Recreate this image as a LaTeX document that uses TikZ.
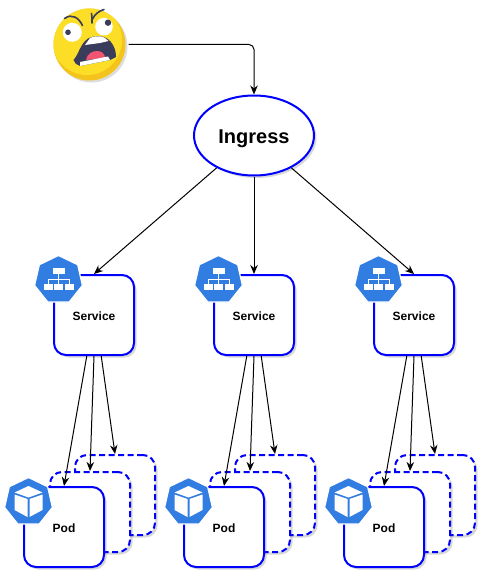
\documentclass[tikz,border=0pt]{standalone}
\usepackage{fontspec}
\setmainfont{Liberation Sans}
\usetikzlibrary{arrows.meta,calc,shapes.geometric,shadows}
\definecolor{edge}{RGB}{0, 0, 255}
\definecolor{kube}{RGB}{50, 125, 225}
\definecolor{faceyellow}{RGB}{252, 222, 38}
\definecolor{facedark}{RGB}{244, 196, 28}
\definecolor{faceink}{RGB}{58, 60, 92}
\definecolor{facepink}{RGB}{240, 84, 112}
\tikzset{
    softshadow/.style={drop shadow={opacity=0.22, shadow xshift=2.5pt, shadow yshift=-2.5pt, fill=black!70}},
    box/.style={draw=edge, fill=white, line width=2pt, rounded corners=12pt, minimum width=80pt, minimum height=80pt, inner sep=0pt, softshadow, text height=10.5pt, text depth=0pt, font=\fontsize{12}{14}\selectfont\bfseries},
    ghostbox/.style={box, dash pattern=on 6pt off 3.5pt},
    bubble/.style={draw=edge, fill=white, ellipse, line width=2pt, minimum width=120pt, minimum height=80pt, inner sep=0pt, softshadow, text height=16pt, text depth=0pt, font=\fontsize{20}{24}\selectfont\bfseries},
    badge/.style={regular polygon, regular polygon sides=7, fill=kube, draw=white, line width=1.2pt, minimum size=49pt, inner sep=0pt},
    link/.style={draw=black, line width=1pt, -{Stealth[length=9pt,width=7.5pt]}},
    svcicon/.pic={
        \fill[white] (-6,-12.5) rectangle (6,-6);
        \foreach \dx in {-10.5,0,10.5}
            \fill[white] (\dx-4.5,4) rectangle (\dx+4.5,9.5);
        \draw[white, line width=1pt] (0,-6) -- (0,4) (-10.5,4) -- (-10.5,-1) -- (10.5,-1) -- (10.5,4);
    },
    podicon/.pic={
        \fill[white] (0,-16) -- (14,-9.5) -- (0,-4.5) -- (-14,-9.5) -- cycle;
        \fill[white] (-14,-7.5) -- (-1,-3) -- (-1,15) -- (-14,8) -- cycle;
        \fill[white] (14,-7.5) -- (1,-3) -- (1,15) -- (14,8) -- cycle;
    }
}

\begin{document}
\begin{tikzpicture}[x=1pt, y=-1pt]
    \useasboundingbox (0,0) rectangle (493,586);

    % the face
    \fill[black!60, opacity=0.22] (91.5,46.5) circle (36);
    \node[circle, fill=facedark, minimum size=72pt, inner sep=0pt] (face) at (89.5,44.5) {};
    \begin{scope}
        \clip (89.5,44.5) circle (36);
        \fill[faceyellow] (87,40) circle (35);
    \end{scope}
    \fill[white] (72.3,32.3) circle (9.5);
    \fill[white] (104,26.7) circle (8.8);
    \fill[faceink] (68,32.3) circle (2.8);
    \fill[faceink] (108,22.7) circle (3.2);
    \draw[faceink, line width=1.6pt, line cap=round] (64.5,18.5) .. controls (72,13) and (79,18) .. (82.5,25.5);
    \draw[faceink, line width=1.6pt, line cap=round] (92,23) .. controls (92,17) and (92,15) .. (91.5,13.5);
    \draw[faceink, line width=1.6pt, line cap=round] (92.5,19) .. controls (95,14) and (99,11) .. (104,9.5);
    \fill[faceink] (73.5,60) .. controls (79,54) and (80,44) .. (88,38.5) .. controls (95,35) and (107,34) .. (113,45)
        .. controls (116,50) and (116,56) .. (116,57) -- (110,60) -- (80,66) .. controls (77,65) and (74,63) .. (73.5,60) -- cycle;
    \fill[white] (85,45) -- (90,38) .. controls (97,35) and (104,35.5) .. (108.5,41) -- (100,43) -- cycle;
    \fill[facepink] (86,60) .. controls (87,54) and (92,51) .. (97,51) .. controls (102,51) and (105,54) .. (105,58) -- cycle;
    \fill[white] (80,66) -- (110,60) -- (108,56.5) -- (80,62) -- cycle;

    % ingress
    \node[bubble] (ing) at (254,135.5) {Ingress};

    % the three stacks
    \foreach \i/\sx in {1/94, 2/254, 3/414} {
        \node[box] (svc\i) at (\sx,315) {Service};
        \node[ghostbox] (pod\i c) at (\sx+21,495) {};
        \node[ghostbox] (pod\i b) at (\sx-4,512) {};
        \node[box] (pod\i a) at (\sx-30,527) {Pod};
        \node[badge] (svcbadge\i) at ($(svc\i.north west)+(5.5,6)$) {};
        \node[badge] (podbadge\i) at ($(pod\i a.north west)+(5.5,16)$) {};
        \pic at (svcbadge\i) {svcicon};
        \pic at (podbadge\i) {podicon};
        \draw[link] (ing) -- (svc\i.north);
        \draw[link] (svc\i.-100) -- (pod\i a.north);
        \draw[link] (svc\i.south) -- (pod\i b.north);
        \draw[link] (svc\i.-80) -- (pod\i c.north);
    }

    \draw[link, rounded corners=5pt] ([xshift=3pt]face.east) -| (ing.north);
\end{tikzpicture}
\end{document}
